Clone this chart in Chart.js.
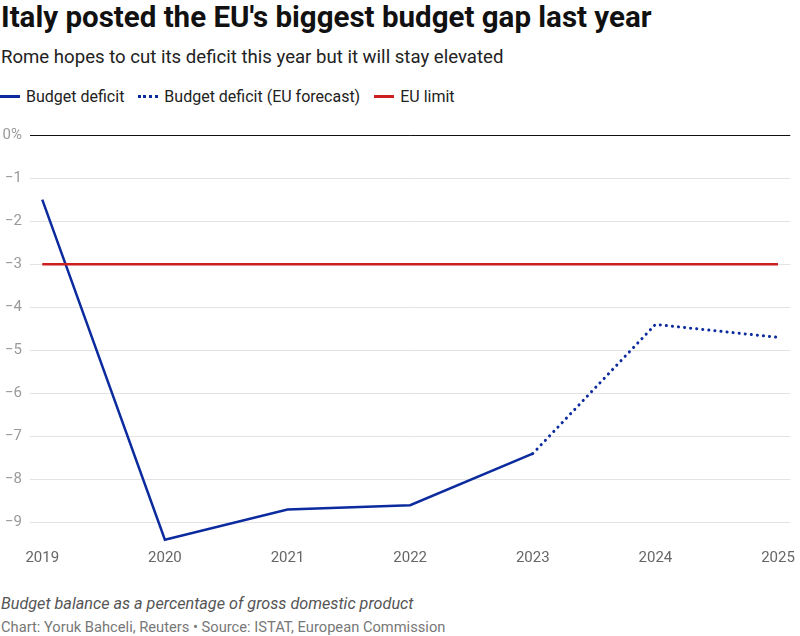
<!DOCTYPE html>
<html>
<head>
<meta charset="utf-8">
<script src="https://cdn.jsdelivr.net/npm/chart.js@4"></script>
<style>
  body { margin: 0; width: 800px; height: 636px; background: #fff; font-family: Roboto, sans-serif; color: #222; position: relative; overflow: hidden; }
  .title { position: absolute; left: 1px; top: 0px; font-size: 29.5px; font-weight: 700; color: #111; }
  .subtitle { position: absolute; left: 1px; top: 46px; font-size: 18.6px; color: #222; }
  .legend { position: absolute; left: 0; top: 87px; font-size: 16px; color: #222; display: flex; align-items: center; }
  .legend .item { display: flex; align-items: center; margin-right: 14px; }
  .legend .swatch { width: 20px; height: 0; margin-right: 6px; }
  .chart { position: absolute; left: 0; top: 118px; width: 800px; height: 448px; }
  .note { position: absolute; left: 1px; top: 594px; font-size: 16.2px; font-style: italic; color: #555; }
  .source { position: absolute; left: 1px; top: 618px; font-size: 14.7px; color: #777; }
</style>
</head>
<body>
<div class="title">Italy posted the EU's biggest budget gap last year</div>
<div class="subtitle">Rome hopes to cut its deficit this year but it will stay elevated</div>
<div class="legend">
  <div class="item"><span class="swatch" style="border-top:3px solid #0b2b9e"></span>Budget deficit</div>
  <div class="item"><span class="swatch" style="border-top:3px dotted #0b2b9e"></span>Budget deficit (EU forecast)</div>
  <div class="item"><span class="swatch" style="border-top:3px solid #cc1f1f"></span>EU limit</div>
</div>
<div class="chart"><canvas id="c" width="800" height="448"></canvas></div>
<div class="note">Budget balance as a percentage of gross domestic product</div>
<div class="source">Chart: Yoruk Bahceli, Reuters • Source: ISTAT, European Commission</div>
<script>
const years = [2019, 2020, 2021, 2022, 2023, 2024, 2025];
const deficit = [-1.5, -9.4, -8.7, -8.6, -7.4, null, null];
const forecast = [null, null, null, null, -7.4, -4.4, -4.7];
const euLimit = [-3, -3, -3, -3, -3, -3, -3];
const yTicks = [0, -1, -2, -3, -4, -5, -6, -7, -8, -9];

const blue = "#0b2b9e";
const red = "#cc1f1f";

function toPoints(values) {
  return years.map((year, i) => ({ x: year, y: values[i] }));
}

new Chart("c", {
  type: "line",
  data: {
    datasets: [
      {
        label: "EU limit",
        data: toPoints(euLimit),
        borderColor: red,
        borderWidth: 2.5,
        pointRadius: 0,
      },
      {
        label: "Budget deficit (EU forecast)",
        data: toPoints(forecast),
        borderColor: blue,
        borderWidth: 3,
        borderDash: [0.1, 6],
        borderCapStyle: "round",
        pointRadius: 0,
      },
      {
        label: "Budget deficit",
        data: toPoints(deficit),
        borderColor: blue,
        borderWidth: 2.5,
        pointRadius: 0,
      },
    ]
  },
  options: {
    responsive: false,
    animation: false,
    layout: { padding: { top: 14, right: 8, left: 0, bottom: 0 } },
    plugins: { legend: { display: false }, tooltip: { enabled: false } },
    scales: {
      x: {
        type: "linear",
        min: 2018.9,
        max: 2025.1,
        grid: { display: false, drawTicks: false },
        border: { display: false },
        afterBuildTicks: (scale) => { scale.ticks = years.map((v) => ({ value: v })); },
        afterFit: (scale) => { scale.height = 22; },
        ticks: {
          padding: 5,
          color: "#666",
          font: { family: "Roboto", size: 15 },
          callback: (v) => String(v),
        },
      },
      y: {
        min: -9.5,
        max: 0,
        border: { display: false },
        grid: {
          drawTicks: false,
          color: (ctx) => ctx.tick && ctx.tick.value === 0 ? "#111" : "#e3e3e3",
          lineWidth: 1,
        },
        afterBuildTicks: (scale) => { scale.ticks = yTicks.map((v) => ({ value: v })); },
        afterFit: (scale) => { scale.width = 30; },
        ticks: {
          padding: 8,
          color: "#9a9a9a",
          font: { family: "Roboto", size: 15 },
          callback: (v) => v === 0 ? "0%" : "\u2212" + Math.abs(v),
        },
      }
    }
  }
});
</script>
</body>
</html>
